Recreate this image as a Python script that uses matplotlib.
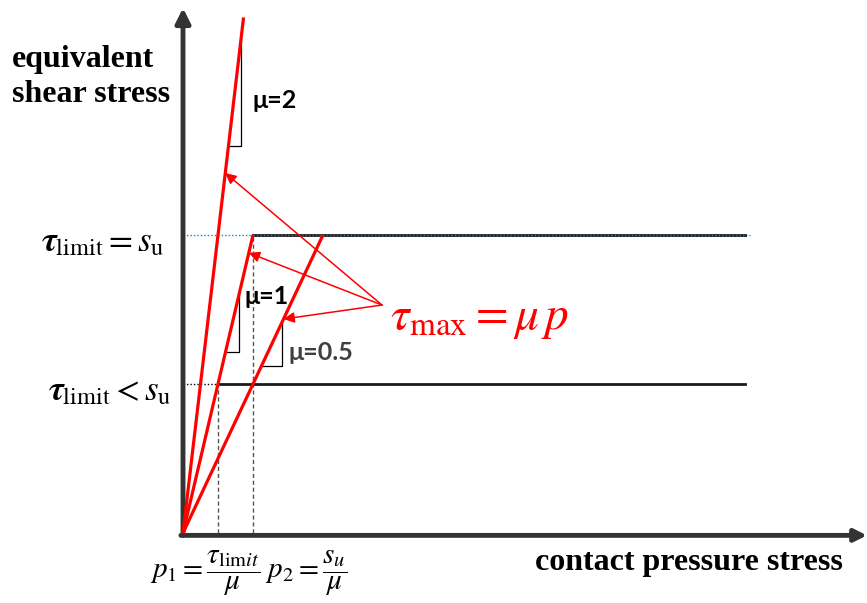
import matplotlib
matplotlib.use("Agg")
import matplotlib.pyplot as plt

plt.rcParams['mathtext.fontset'] = 'stix'

# friction coefficients of the three red lines
mu_values = [2, 1, 0.5]
mu_labels = ['μ=2', 'μ=1', 'μ=0.5']
mu_label_colors = ['black', 'black', '#404040']

s_u = 1.0          # tau_limit = s_u level
tau_low = 0.5      # tau_limit < s_u level
tau_top = 1.73     # where the mu=2 line stops
p_end = 8.03       # right end of the plateau lines

# slope triangles: (tau of horizontal leg, leg width)
tri_tau = [1.30, 0.607, 0.56]
tri_dp = [0.18, 0.20, 0.30]

# points on each line where the tau_max arrows land
arrow_tau = [1.208, 0.94, 0.718]
arrow_src = (2.843, 0.765)

# pixel layout: origin at (183, 533), 70 px per unit p, 298 px per unit tau
W, H = 867, 603
x0, y0, sx, sy = 183, 533, 70.0, 298.0

fig = plt.figure(figsize=(W / 100, H / 100), dpi=100)
ax = fig.add_axes([0, 0, 1, 1])
ax.set_xlim(-x0 / sx, (W - x0) / sx)
ax.set_ylim(-(H - y0) / sy, y0 / sy)
ax.axis('off')

axis_col = '#333333'
# axes with arrows
ax.annotate('', xy=(0, (y0 - 8) / sy), xytext=(0, -0.008),
            arrowprops=dict(arrowstyle='-|>', color=axis_col, lw=3.5, mutation_scale=22, shrinkA=0, shrinkB=0))
ax.annotate('', xy=((W - x0) / sx, -0.008), xytext=(-0.03, -0.008),
            arrowprops=dict(arrowstyle='-|>', color=axis_col, lw=3.5, mutation_scale=18, shrinkA=0, shrinkB=0))

p1 = tau_low / 1.0
p2 = s_u / 1.0

# guide lines
ax.plot([0, p_end + 0.07], [s_u, s_u], color='#1f7fc0', lw=1.0, ls=(0, (1, 1.5)), zorder=1)
ax.plot([0, p1], [tau_low, tau_low], color='black', lw=1.0, ls=(0, (1, 1.5)), zorder=1)
ax.plot([p1, p1], [0, tau_low], color='#555555', lw=1.0, ls=(0, (3, 2)), zorder=1)
ax.plot([p2, p2], [0, s_u], color='#555555', lw=1.0, ls=(0, (3, 2)), zorder=1)

# plateaus
ax.plot([p2, p_end], [s_u, s_u], color='#1a1a1a', lw=2.0, zorder=2)
ax.plot([p2, p_end], [s_u, s_u], color='#1f7fc0', lw=1.0, ls=(0, (1, 1.5)), zorder=2)
ax.plot([p1, p_end], [tau_low, tau_low], color='#1a1a1a', lw=2.0, zorder=2)

# red tau = mu p lines
ends = [tau_top, s_u, s_u]
for mu, t_end in zip(mu_values, ends):
    ax.plot([0, t_end / mu], [0, t_end], color='red', lw=2.3, zorder=3, solid_capstyle='butt')

# slope triangles
for mu, ta, dp in zip(mu_values, tri_tau, tri_dp):
    pa = ta / mu
    ax.plot([pa, pa + dp, pa + dp], [ta, ta, ta + mu * dp], color='black', lw=0.9, zorder=2)

label_pos = [(0.986, 1.453), (0.88, 0.792), (1.5, 0.607)]
for lab, (lx, ly), c in zip(mu_labels, label_pos, mu_label_colors):
    ax.text(lx, ly, lab, fontsize=18, fontweight='bold', family='Lato', color=c,
            ha='left', va='center', zorder=4)

# tau_max arrows
for mu, ta in zip(mu_values, arrow_tau):
    ax.annotate('', xy=(ta / mu, ta), xytext=arrow_src,
                arrowprops=dict(arrowstyle='-|>', color='red', lw=1.1, mutation_scale=16,
                                shrinkA=0, shrinkB=0), zorder=4)

ax.text(2.96, 0.72, r'$\tau_{\mathrm{max}} = \mu\,p$', color='red', fontsize=34,
        ha='left', va='center')

# axis titles
ax.text(-2.44, 1.53, 'equivalent\nshear stress', family='Liberation Serif', fontweight='bold',
        fontsize=23, ha='left', va='center', linespacing=1.3)
ax.text(5.03, -0.1, 'contact pressure stress', family='Liberation Serif', fontweight='bold',
        fontsize=23, ha='left', va='center')

ax.text(-0.26, 0.98, r'$\boldsymbol{\tau}_{\mathrm{limit}} = s_{\mathrm{u}}$', fontsize=25,
        ha='right', va='center')
ax.text(-0.16, 0.48, r'$\boldsymbol{\tau}_{\mathrm{limit}} < s_{\mathrm{u}}$', fontsize=25,
        ha='right', va='center')

ax.text(-0.47, -0.135, r'$p_1 = \dfrac{\tau_{\mathrm{lim}it}}{\mu}\; p_2 = \dfrac{s_u}{\mu}$',
        fontsize=21, ha='left', va='center')

fig.savefig('out.png', dpi=100)
